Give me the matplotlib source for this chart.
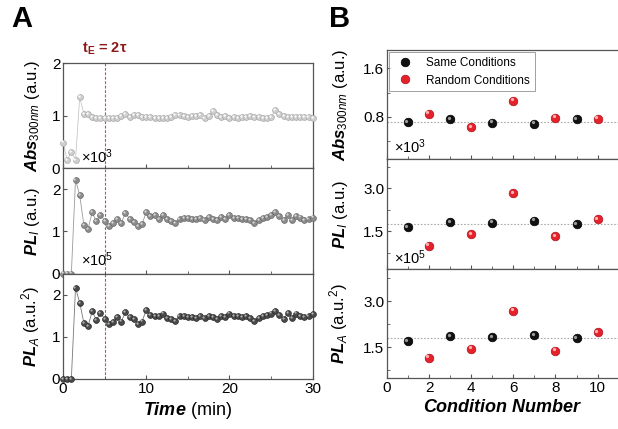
import numpy as np
import matplotlib
matplotlib.use("Agg")
import matplotlib.pyplot as plt
from matplotlib import transforms
from matplotlib.ticker import MultipleLocator, FormatStrFormatter

plt.rcParams['font.family'] = ['Liberation Sans', 'DejaVu Sans']
plt.rcParams['mathtext.fontset'] = 'custom'
plt.rcParams['mathtext.rm'] = 'Liberation Sans'
plt.rcParams['mathtext.it'] = 'Liberation Sans:italic'
plt.rcParams['mathtext.bf'] = 'Liberation Sans:bold'
plt.rcParams['mathtext.bfit'] = 'Liberation Sans:bold:italic'

# ---- panel A : time traces ----
time = [0, 0.5, 1, 1.5, 2, 2.5, 3, 3.5, 4, 4.5, 5, 5.5, 6, 6.5, 7, 7.5, 8, 8.5, 9, 9.5,
        10, 10.5, 11, 11.5, 12, 12.5, 13, 13.5, 14, 14.5, 15, 15.5, 16, 16.5, 17, 17.5,
        18, 18.5, 19, 19.5, 20, 20.5, 21, 21.5, 22, 22.5, 23, 23.5, 24, 24.5, 25, 25.5,
        26, 26.5, 27, 27.5, 28, 28.5, 29, 29.5, 30]
abs_300 = [0.49, 0.16, 0.31, 0.16, 1.35, 1.04, 1.03, 0.97, 0.95, 0.96,
           0.95, 0.95, 0.96, 0.96, 0.99, 1.03, 0.98, 1.01, 1.01, 0.98,
           0.97, 0.97, 0.96, 0.96, 0.95, 0.95, 0.97, 1.01, 1.02, 1.00,
           0.98, 0.99, 1.00, 1.01, 0.95, 1.00, 1.08, 1.01, 0.98, 1.00,
           0.96, 0.97, 0.96, 0.97, 0.97, 1.00, 0.97, 0.97, 0.96, 0.96,
           0.97, 1.11, 1.03, 0.99, 0.98, 0.98, 0.98, 0.98, 0.98, 0.98,
           0.95]
pl_i = [0, 0, 0, 2.23, 1.86, 1.16, 1.06, 1.45, 1.24, 1.40,
        1.25, 1.12, 1.20, 1.30, 1.20, 1.44, 1.30, 1.22, 1.12, 1.18,
        1.46, 1.37, 1.38, 1.30, 1.39, 1.30, 1.25, 1.20, 1.30,
        1.31, 1.31, 1.30, 1.29, 1.32, 1.28, 1.34, 1.30, 1.27, 1.34,
        1.30, 1.38, 1.31, 1.32, 1.29, 1.30, 1.27, 1.19, 1.28, 1.32,
        1.35, 1.38, 1.45, 1.36, 1.26, 1.38, 1.27, 1.37, 1.33, 1.28,
        1.30, 1.33]
pl_a = [0, 0, 0, 2.16, 1.81, 1.33, 1.25, 1.60, 1.40, 1.56,
        1.43, 1.29, 1.35, 1.47, 1.36, 1.58, 1.46, 1.41, 1.29, 1.36,
        1.64, 1.52, 1.50, 1.48, 1.55, 1.44, 1.43, 1.37, 1.48,
        1.48, 1.47, 1.46, 1.45, 1.49, 1.44, 1.50, 1.47, 1.43, 1.48,
        1.47, 1.55, 1.48, 1.49, 1.46, 1.48, 1.45, 1.37, 1.45, 1.49,
        1.52, 1.55, 1.60, 1.52, 1.42, 1.56, 1.44, 1.55, 1.50, 1.46,
        1.49, 1.53]
t_e = 5

# ---- panel B : condition number ----
same_x = [1, 3, 5, 7, 9]
rand_x = [2, 4, 6, 8, 10]
abs_same = [0.71, 0.76, 0.70, 0.69, 0.76]
abs_rand = [0.85, 0.63, 1.07, 0.79, 0.77]
pli_same = [1.64, 1.81, 1.79, 1.86, 1.75]
pli_rand = [1.00, 1.40, 2.83, 1.33, 1.92]
pla_same = [1.70, 1.85, 1.83, 1.89, 1.79]
pla_rand = [1.16, 1.45, 2.68, 1.38, 1.99]

fig = plt.figure(figsize=(6.18, 4.29), dpi=100)
spine_c = '#555555'


def ball(ax, x, y, face, edge, hl, ms, label=None):
    # shaded sphere: dark body plus a small highlight shifted up-left
    h = ax.plot(x, y, 'o', ms=ms, mfc=face, mec=edge, mew=0.5, ls='none',
                clip_on=False, zorder=3, label=label)[0]
    off = transforms.offset_copy(ax.transData, fig=fig, x=-ms * 0.18, y=ms * 0.18, units='points')
    ax.plot(x, y, 'o', ms=ms * 0.38, mfc=hl, mec='none', ls='none', transform=off,
            clip_on=False, zorder=4)
    return h


def style(ax):
    for s in ax.spines.values():
        s.set_color(spine_c)
        s.set_linewidth(0.9)
    ax.tick_params(direction='in', which='both', color=spine_c, labelsize=11, pad=2)
    ax.tick_params(which='major', length=3)
    ax.tick_params(which='minor', length=2)


# panel A axes
a_left, a_w = 0.102, 0.404
a_top, a_h = 0.853, 0.2453
axA = []
for i in range(3):
    axA.append(fig.add_axes([a_left, a_top - (i + 1) * a_h, a_w, a_h]))

series = [abs_300, pl_i, pl_a]
faces = ['#cfcfcf', '#8c8c8c', '#4a4a4a']
edges = ['#a8a8a8', '#6a6a6a', '#2a2a2a']
hls = ['#ffffff', '#d8d8d8', '#b0b0b0']
line_c = ['#c8c8c8', '#9a9a9a', '#777777']
ylims = [(0, 2), (0, 2.5), (0, 2.5)]
ylabels = [r'$\mathbfit{Abs}_{\mathit{300nm}}$ (a.u.)',
           r'$\mathbfit{PL}_{\mathit{I}}$ (a.u.)',
           r'$\mathbfit{PL}_{\mathit{A}}$ (a.u.$^2$)']
for i, ax in enumerate(axA):
    ax.plot(time, series[i], '-', color=line_c[i], lw=0.6, zorder=2, clip_on=False)
    ball(ax, time, series[i], faces[i], edges[i], hls[i], 4.2)
    ax.axvline(t_e, color='#d04858', lw=0.8, ls=(0, (2.5, 1.5)), zorder=1)
    ax.set_xlim(0, 30)
    ax.set_ylim(*ylims[i])
    ax.yaxis.set_major_locator(MultipleLocator(1))
    ax.xaxis.set_major_locator(MultipleLocator(10))
    ax.xaxis.set_minor_locator(MultipleLocator(5))
    style(ax)
    ax.set_ylabel(ylabels[i], fontsize=12)
    ax.yaxis.set_label_coords(-0.085, 0.5)
    if i < 2:
        ax.tick_params(labelbottom=False)

axA[0].text(0.07, 0.11, r'$\times$10$^3$', transform=axA[0].transAxes, fontsize=10.5, va='center')
axA[1].text(0.07, 0.13, r'$\times$10$^5$', transform=axA[1].transAxes, fontsize=10.5, va='center')
axA[2].set_xlabel(r'$\mathbfit{Time}$ (min)', fontsize=13, labelpad=3)
axA[0].text(t_e, 2.12, r'$\mathbf{t_E}$' + ' = 2\u03c4', color='#8b1a1a', fontsize=10.5,
            fontweight='bold', ha='center', va='bottom')

# panel B axes
b_left = 0.626
b_w = (1.0 - b_left) * 1.003
b_top, b_h = 0.883, 0.2547
axB = []
for i in range(3):
    axB.append(fig.add_axes([b_left, b_top - (i + 1) * b_h, b_w, b_h]))

b_same = [abs_same, pli_same, pla_same]
b_rand = [abs_rand, pli_rand, pla_rand]
b_ylims = [(0.1, 1.9), (0.2, 4.0), (0.5, 4.05)]
b_major = [0.8, 1.5, 1.5]
b_minor = [0.4, 0.75, 0.75]
for i, ax in enumerate(axB):
    ax.axhline(np.mean(b_same[i]), color='#aaaaaa', lw=0.8, ls=(0, (1.5, 1.5)), zorder=1)
    h1 = ball(ax, same_x, b_same[i], '#111111', '#000000', '#9a9a9a', 6.2, 'Same Conditions')
    h2 = ball(ax, rand_x, b_rand[i], '#e5222b', '#b01018', '#ffb0b0', 6.2, 'Random Conditions')
    ax.set_xlim(0, 11)
    ax.set_ylim(*b_ylims[i])
    ax.yaxis.set_major_locator(MultipleLocator(b_major[i]))
    ax.yaxis.set_minor_locator(MultipleLocator(b_minor[i]))
    ax.yaxis.set_major_formatter(FormatStrFormatter('%.1f'))
    ax.xaxis.set_major_locator(MultipleLocator(2))
    ax.xaxis.set_minor_locator(MultipleLocator(1))
    style(ax)
    ax.set_ylabel(ylabels[i], fontsize=12)
    ax.yaxis.set_label_coords(-0.16, 0.5)
    if i < 2:
        ax.tick_params(labelbottom=False)
    if i == 0:
        leg = ax.legend(handles=[h1, h2], loc='upper left', fontsize=8.5, frameon=True,
                        fancybox=False, edgecolor='#888888', borderpad=0.4,
                        handletextpad=0.8, borderaxespad=0.15, labelspacing=0.5)
        leg.get_frame().set_linewidth(0.7)

axB[0].text(0.03, 0.12, r'$\times$10$^3$', transform=axB[0].transAxes, fontsize=10.5, va='center')
axB[1].text(0.03, 0.10, r'$\times$10$^5$', transform=axB[1].transAxes, fontsize=10.5, va='center')
axB[2].set_xlabel(r'$\mathbfit{Condition\ Number}$', fontsize=13, labelpad=3)

fig.text(0.018, 0.955, 'A', fontsize=21, fontweight='bold', va='center', ha='left')
fig.text(0.533, 0.955, 'B', fontsize=21, fontweight='bold', va='center', ha='left')

fig.savefig('out.png', dpi=100)
